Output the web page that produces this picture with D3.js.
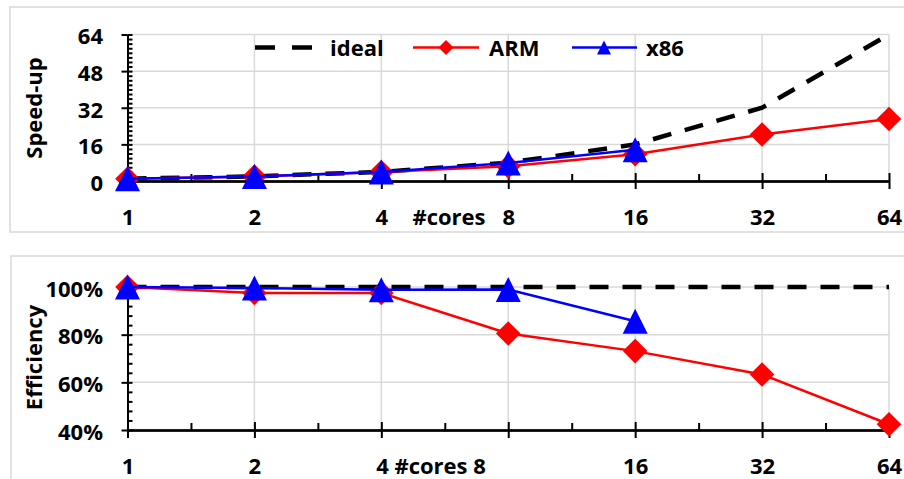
<!DOCTYPE html>
<html>
<head>
<meta charset="utf-8">
<script src="https://cdn.jsdelivr.net/npm/d3@7"></script>
<style>
  body { margin: 0; background: #fff; }
  text, .tick text { font-family: "Open Sans", sans-serif; font-weight: 700; font-size: 22px; fill: #000; }
</style>
</head>
<body>
<div id="vis"></div>
<script>
// data
const cores = [1, 2, 4, 8, 16, 32, 64];
const coreLabels = ['1', '2', '4', '8', '16', '32', '64'];
const idealSpeedup = [1, 2, 4, 8, 16, 32, 64];
const armSpeedup = [1, 1.95, 3.9, 6.4, 11.7, 20.3, 27.1];
const x86Speedup = [1, 2, 3.95, 7.9, 13.7];
const speedupTicks = [0, 16, 32, 48, 64];
const idealEff = [100, 100, 100, 100, 100, 100, 100];
const armEff = [100, 97.5, 97.5, 80.5, 73.1, 63.3, 42.4];
const x86Eff = [100, 99.6, 98.8, 98.9, 85.6];
const effTicks = [40, 60, 80, 100];
const effTickLabels = ['40%', '60%', '80%', '100%'];

const svg = d3.select('#vis').append('svg')
    .attr('width', 904)
    .attr('height', 479);

const x = d3.scaleLog().base(2).domain([1, 64]).range([127.5, 889]);
const minorX = d3.range(0, 6).map(k => Math.pow(2, k + 0.5));

const diamond = s => `M0,${-s}L${s},0L0,${s}L${-s},0Z`;
const triangle = s => `M0,${-s}L${s},${s}L${-s},${s}Z`;

const series = (vals) => vals.map((v, i) => ({c: cores[i], v: v}));

function panel(o) {
    const g = svg.append('g');
    const y = d3.scaleLinear().domain(o.domain).range(o.range);

    // light border round the panel
    g.append('rect')
        .attr('x', o.box[0]).attr('y', o.box[1])
        .attr('width', o.box[2]).attr('height', o.box[3])
        .attr('fill', 'none').attr('stroke', '#d9d9d9').attr('stroke-width', 1.5);

    // grid lines
    g.append('g').selectAll('line')
        .data(o.ticks.filter(d => d !== o.domain[0]))
        .enter().append('line')
        .attr('x1', x(1)).attr('x2', x(64))
        .attr('y1', d => y(d)).attr('y2', d => y(d))
        .attr('stroke', '#d9d9d9').attr('stroke-width', 1.5);
    g.append('g').selectAll('line')
        .data(cores.slice(1))
        .enter().append('line')
        .attr('x1', d => x(d)).attr('x2', d => x(d))
        .attr('y1', y(o.domain[1])).attr('y2', y(o.domain[0]))
        .attr('stroke', '#d9d9d9').attr('stroke-width', 1.5);

    // y axis: crossing majors, inside minors
    const yMinor = d3.range(o.domain[0], o.domain[1] + 0.001, o.minor);
    g.append('g')
        .attr('transform', `translate(${x(1)},0)`)
        .call(d3.axisRight(y).tickValues(yMinor).tickSize(5).tickSizeOuter(0).tickFormat(''));
    g.append('g')
        .attr('transform', `translate(${x(1)},0)`)
        .call(d3.axisLeft(y).tickValues(o.ticks).tickSize(6).tickSizeOuter(0).tickPadding(18.5)
            .tickFormat((d, i) => o.tickLabels[i]))
        .call(a => a.selectAll('text').attr('dy', '0.42em'));

    // x axis
    const x0 = y(o.domain[0]);
    g.append('g')
        .attr('transform', `translate(0,${x0})`)
        .call(d3.axisTop(x).tickValues(minorX).tickSize(7).tickSizeOuter(0).tickFormat(''));
    g.append('g')
        .attr('transform', `translate(0,${x0})`)
        .call(d3.axisTop(x).tickValues(cores).tickSize(8).tickSizeOuter(0).tickFormat(''));
    g.append('g')
        .attr('transform', `translate(0,${x0})`)
        .call(d3.axisBottom(x).tickValues(cores).tickSize(8).tickSizeOuter(0).tickPadding(20.5)
            .tickFormat((d, i) => o.xLabels[i]));

    g.selectAll('.domain, .tick line').attr('stroke', '#000').attr('stroke-width', 2);

    // axis titles
    g.append('text')
        .attr('transform', `translate(42,${o.titleY}) rotate(-90)`)
        .attr('text-anchor', 'middle')
        .text(o.yTitle);
    g.append('text')
        .attr('x', o.xTitleX).attr('y', x0 + 44)
        .attr('text-anchor', 'middle')
        .text(o.xTitle);

    const line = d3.line().x(d => x(d.c)).y(d => y(d.v));

    // ideal
    g.append('path').datum(series(o.ideal))
        .attr('d', line).attr('fill', 'none')
        .attr('stroke', '#000').attr('stroke-width', 4.5).attr('stroke-dasharray', '19,14');

    // ARM
    g.append('path').datum(series(o.arm))
        .attr('d', line).attr('fill', 'none')
        .attr('stroke', '#ff0000').attr('stroke-width', 2.5);
    g.append('g').selectAll('path')
        .data(series(o.arm)).enter().append('path')
        .attr('transform', d => `translate(${x(d.c)},${y(d.v)})`)
        .attr('d', diamond(12.3)).attr('fill', '#ff0000');

    // x86
    g.append('path').datum(series(o.x86))
        .attr('d', line).attr('fill', 'none')
        .attr('stroke', '#0000ff').attr('stroke-width', 2.5);
    g.append('g').selectAll('path')
        .data(series(o.x86)).enter().append('path')
        .attr('transform', d => `translate(${x(d.c)},${y(d.v)})`)
        .attr('d', triangle(12.5)).attr('fill', '#0000ff');

    return g;
}

const topPanel = panel({
    box: [10, 7, 920, 225],
    domain: [0, 64], range: [181, 34.5], minor: 2,
    ticks: speedupTicks, tickLabels: speedupTicks.map(String),
    xLabels: coreLabels,
    yTitle: 'Speed-up', titleY: 108,
    xTitle: '#cores', xTitleX: 449,
    ideal: idealSpeedup, arm: armSpeedup, x86: x86Speedup
});

panel({
    box: [11, 256, 920, 240],
    domain: [40, 100], range: [430, 287], minor: 4,
    ticks: effTicks, tickLabels: effTickLabels,
    xLabels: coreLabels.map(l => (l === '4' || l === '8') ? '' : l),
    yTitle: 'Efficiency', titleY: 357.5,
    xTitle: '4 #cores 8', xTitleX: 431,
    ideal: idealEff, arm: armEff, x86: x86Eff
});

// legend (top panel)
const ly = 47.5;
const legend = topPanel.append('g');
legend.append('line')
    .attr('x1', 255).attr('x2', 313).attr('y1', ly).attr('y2', ly)
    .attr('stroke', '#000').attr('stroke-width', 4.5).attr('stroke-dasharray', '20,17');
legend.append('text').attr('x', 330).attr('y', ly + 8.5).text('ideal');
legend.append('line')
    .attr('x1', 413).attr('x2', 479).attr('y1', ly).attr('y2', ly)
    .attr('stroke', '#ff0000').attr('stroke-width', 2.5);
legend.append('path')
    .attr('transform', `translate(446,${ly})`).attr('d', diamond(7.5)).attr('fill', '#ff0000');
legend.append('text').attr('x', 489).attr('y', ly + 8.5).text('ARM');
legend.append('line')
    .attr('x1', 572).attr('x2', 637).attr('y1', ly).attr('y2', ly)
    .attr('stroke', '#0000ff').attr('stroke-width', 2.5);
legend.append('path')
    .attr('transform', `translate(604,${ly})`).attr('d', triangle(7)).attr('fill', '#0000ff');
legend.append('text').attr('x', 646).attr('y', ly + 8.5).text('x86');
</script>
</body>
</html>
